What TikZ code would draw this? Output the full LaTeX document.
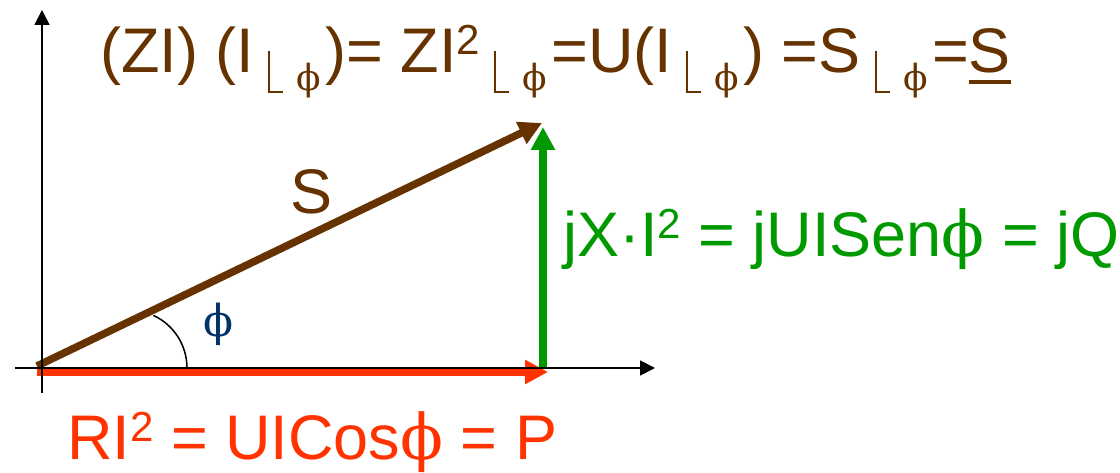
\documentclass[tikz,border=0pt]{standalone}
\usepackage{fontspec}
\setmainfont{Liberation Sans}
\newfontfamily\phifont{DejaVu Serif}
\usetikzlibrary{arrows.meta}
\definecolor{vbrown}{RGB}{102,51,0}
\definecolor{vgreen}{RGB}{0,153,0}
\definecolor{vred}{RGB}{255,51,0}
\definecolor{vblue}{RGB}{0,51,102}
\newcommand{\fii}{{\phifont\symbol{"03D5}}}
\newcommand{\sqd}{\raisebox{18pt}{\fontsize{42}{44}\selectfont 2}}
\newcommand{\angmark}{\raisebox{-20pt}{\rule{1.8pt}{42pt}\rule{13pt}{1.8pt}}}
\newcommand{\angsub}{\hspace{14pt}\angmark\hspace{14pt}\raisebox{-18pt}{\fontsize{36}{38}\selectfont\fii}\hspace{4pt}}
\newcommand{\ulS}{{\setbox0\hbox{S}\rlap{\rule[-11pt]{\wd0}{3.5pt}}S}}

\begin{document}
\begin{tikzpicture}[x=1pt,y=1pt,
  axis/.style={line width=1.8pt,-{Triangle[length=15pt,width=15pt]}},
  phasor/.style={line width=7.5pt,-{Triangle[length=23pt,width=23pt]}},
  lbl/.style={inner sep=0pt,font=\fontsize{63}{70}\selectfont}]
\useasboundingbox (-42,-105) rectangle (1078,368);
\coordinate (pstart) at (-5,-4);
\coordinate (pend) at (506,-4);
\coordinate (qstart) at (501,0);
\coordinate (qend) at (501,241);
\coordinate (sstart) at (-5,2);
\coordinate (send) at (500,245);
% phasors
\draw[phasor,vred] (pstart) -- (pend);
\draw[phasor,vgreen] (qstart) -- (qend);
\draw[phasor,vbrown] (sstart) -- (send);
% axes
\coordinate (xl) at (-27,0);
\coordinate (xr) at (613,0);
\coordinate (yb) at (0,-25);
\coordinate (yt) at (0,358);
\draw[axis] (xl) -- (xr);
\draw[axis] (yb) -- (yt);
\draw[line width=1.5pt] (145,0) arc[start angle=0,end angle=65,radius=58];
% labels
\node[lbl,text=vbrown] (slbl) at (270,176) {S};
\node[inner sep=0pt,text=vblue,font=\fontsize{44}{50}\selectfont] (philbl) at (176,44) {\fii};
\node[lbl,text=vgreen,anchor=base west] (qlbl) at (521,111) {jX·I\sqd{} = jUISen\fii{} = jQ};
\node[lbl,text=vred,anchor=base west] (plbl) at (25,-92) {RI\sqd{} = UICos\fii{} = P};
\node[lbl,text=vbrown,anchor=base west] (toplbl) at (58,295) {(ZI) (I\angsub)= ZI\sqd\angsub=U(I\angsub) =S\angsub=\ulS};
\end{tikzpicture}
\end{document}
